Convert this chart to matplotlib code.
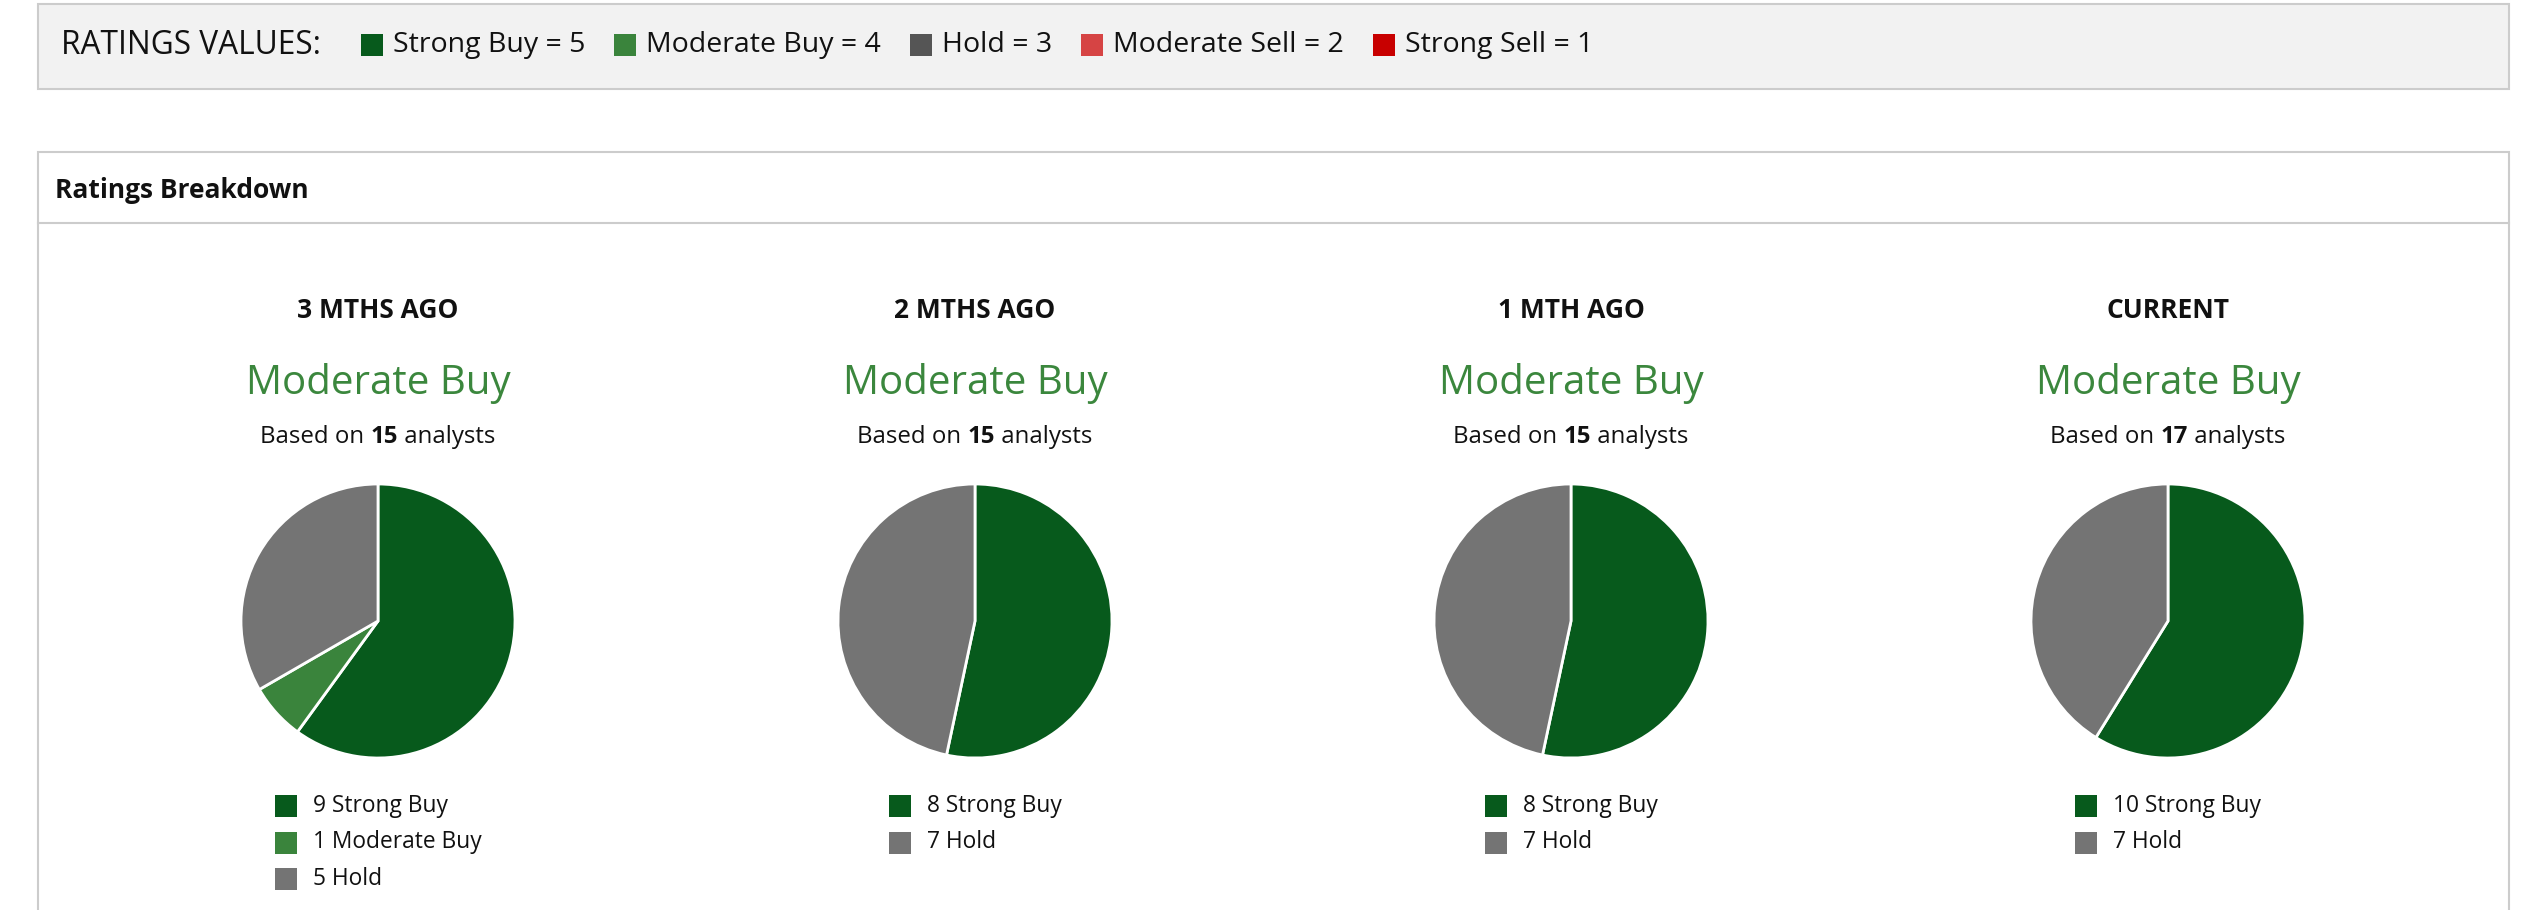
import matplotlib
matplotlib.use('Agg')
import matplotlib.pyplot as plt
from matplotlib.patches import Rectangle

plt.rcParams['font.family'] = ['Open Sans', 'DejaVu Sans']

W, H = 2522, 910

# ratings scale shown in the top strip
scale_labels = ['Strong Buy = 5', 'Moderate Buy = 4', 'Hold = 3', 'Moderate Sell = 2', 'Strong Sell = 1']
scale_colors = ['#075a1c', '#3a843c', '#555555', '#d64444', '#c80000']

# ratings breakdown per period
periods = ['3 MTHS AGO', '2 MTHS AGO', '1 MTH AGO', 'CURRENT']
consensus = ['Moderate Buy', 'Moderate Buy', 'Moderate Buy', 'Moderate Buy']
analysts = [15, 15, 15, 17]
strong_buy = [9, 8, 8, 10]
moderate_buy = [1, 0, 0, 0]
hold = [5, 7, 7, 7]

rating_names = ['Strong Buy', 'Moderate Buy', 'Hold']
rating_colors = ['#075a1c', '#3a843c', '#747474']

fig = plt.figure(figsize=(W / 100, H / 100), dpi=100)
ax = fig.add_axes([0, 0, 1, 1])
ax.set_xlim(0, W)
ax.set_ylim(H, 0)
ax.axis('off')
renderer = fig.canvas.get_renderer()


def width_of(t):
    return t.get_window_extent(renderer).width


# top strip
ax.add_patch(Rectangle((38, 4), 2471, 85, facecolor='#f2f2f2', edgecolor='#cccccc', lw=1.5))
t = ax.text(61, 45, 'RATINGS VALUES:', fontsize=22.8, va='center', color='#111111')
x = 61 + width_of(t) + 40
for lab, col in zip(scale_labels, scale_colors):
    ax.add_patch(Rectangle((x, 34), 22, 22, facecolor=col, edgecolor='none'))
    t = ax.text(x + 32, 45, lab, fontsize=20.5, va='center', color='#111111')
    x = x + 32 + width_of(t) + 29

# breakdown panel
ax.add_patch(Rectangle((38, 152), 2471, 800, facecolor='white', edgecolor='#cccccc', lw=1.5))
ax.plot([38, 2509], [223, 223], color='#cccccc', lw=1.5)
ax.text(55, 191, 'Ratings Breakdown', fontsize=19, fontweight='bold', va='center', color='#111111')

centers = [378, 975, 1571, 2168]
radius = 137
pie_y = 621

for i, cx in enumerate(centers):
    ax.text(cx, 310, periods[i], fontsize=19, fontweight='bold', ha='center', va='center', color='#111111')
    ax.text(cx, 383, consensus[i], fontsize=29, ha='center', va='center', color='#3b873d')

    # "Based on N analysts" with the number in bold
    parts = [('Based on ', 'normal'), (str(analysts[i]), 'bold'), (' analysts', 'normal')]
    tmp = [ax.text(0, 0, p, fontsize=17.3, fontweight=w) for p, w in parts]
    ws = [width_of(tt) for tt in tmp]
    for tt in tmp:
        tt.remove()
    x = cx - sum(ws) / 2
    for (p, w), wd in zip(parts, ws):
        ax.text(x, 437, p, fontsize=17.3, fontweight=w, va='center', color='#111111')
        x += wd

    counts = [strong_buy[i], moderate_buy[i], hold[i]]
    vals = [c for c in counts if c > 0]
    cols = [rating_colors[k] for k, c in enumerate(counts) if c > 0]
    names = [rating_names[k] for k, c in enumerate(counts) if c > 0]

    pax = fig.add_axes([(cx - radius) / W, (H - pie_y - radius) / H, 2 * radius / W, 2 * radius / H])
    pax.pie(vals, colors=cols, startangle=90, counterclock=False,
            wedgeprops=dict(edgecolor='white', linewidth=2))
    pax.set_xlim(-1, 1)
    pax.set_ylim(-1, 1)
    pax.set_aspect('equal')
    pax.axis('off')

    # legend under the pie, centred as a block
    labels = [f'{v} {n}' for v, n in zip(vals, names)]
    tmp = [ax.text(0, 0, lab, fontsize=16.4) for lab in labels]
    block = 38 + max(width_of(tt) for tt in tmp)
    for tt in tmp:
        tt.remove()
    lx = cx - block / 2
    for k, (lab, col) in enumerate(zip(labels, cols)):
        ry = 806 + k * 36.5
        ax.add_patch(Rectangle((lx, ry - 11), 22, 22, facecolor=col, edgecolor='none'))
        ax.text(lx + 38, ry, lab, fontsize=16.4, va='center', color='#111111')

fig.savefig('out.png', dpi=100)
